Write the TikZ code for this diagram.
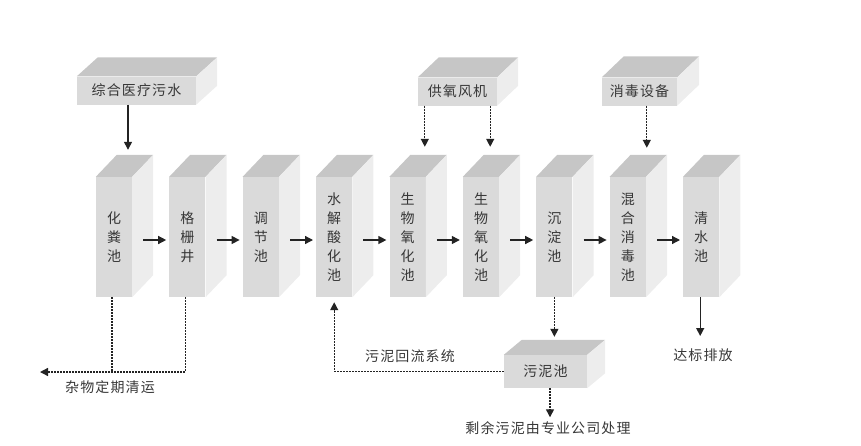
\documentclass[tikz,border=0pt]{standalone}
\usepackage{fontspec}
\newfontfamily\cjk[LetterSpace=8]{Noto Sans CJK SC}
\usetikzlibrary{positioning,arrows.meta}
\definecolor{frontgray}{RGB}{218,218,218}
\definecolor{topgray}{RGB}{198,198,198}
\definecolor{sidegray}{RGB}{237,237,237}
\definecolor{linegray}{RGB}{35,35,35}
\definecolor{textgray}{RGB}{55,55,55}

\begin{document}
\begin{tikzpicture}[x=1pt, y=-1pt, node distance=37pt,
    font=\cjk\fontsize{14}{19}\selectfont, text=textgray,
    tank/.style = {fill=frontgray, minimum width=36pt, minimum height=120pt, inner sep=0pt, align=center},
    unit/.style = {fill=frontgray, minimum height=28pt, inner sep=0pt},
    note/.style = {inner sep=4pt},
    flow/.style = {draw=linegray, line width=1.3pt, -{Triangle[length=8pt,width=8pt]}},
    dline/.style = {draw=linegray, line width=1.3pt, dash pattern=on 2pt off 1pt},
    dflow/.style = {dline, -{Triangle[length=8pt,width=8pt]}}]
  \useasboundingbox (0,0) rectangle (861,445);

  % tanks
  \node[tank] (hfc) at (114,237) {化\\粪\\池};
  \node[tank, right=of hfc] (gsj) {格\\栅\\井};
  \node[tank, right=of gsj] (tjc) {调\\节\\池};
  \node[tank, right=of tjc] (sjc) {水\\解\\酸\\化\\池};
  \node[tank, right=of sjc] (swa) {生\\物\\氧\\化\\池};
  \node[tank, right=of swa] (swb) {生\\物\\氧\\化\\池};
  \node[tank, right=of swb] (cdc) {沉\\淀\\池};
  \node[tank, right=of cdc] (hhc) {混\\合\\消\\毒\\池};
  \node[tank, right=of hhc] (qsc) {清\\水\\池};

  % other units
  \node[unit, minimum width=119pt] (src) at (136.5,90.5) {综合医疗污水};
  \node[unit, minimum width=79pt] (fan) at (457.5,91.5) {供氧风机};
  \node[unit, minimum width=75pt] (dis) at (639.5,91.5) {消毒设备};
  \node[unit, minimum width=83pt, minimum height=33pt] (wnc) at (545.5,371.5) {污泥池};

  % top and side faces
  \foreach \n/\dx/\dy in {hfc/21/22, gsj/21/22, tjc/21/22, sjc/21/22, swa/21/22,
      swb/21/22, cdc/21/22, hhc/21/22, qsc/21/22, src/21/19, fan/21/20, dis/22/21, wnc/18/15} {
    \fill[topgray] (\n.north west) -- ++(\dx,-\dy) -- ([shift={(\dx,-\dy)}]\n.north east) -- (\n.north east) -- cycle;
    \fill[sidegray] (\n.north east) -- ([shift={(\dx,-\dy)}]\n.north east) -- ([shift={(\dx,-\dy)}]\n.south east) -- (\n.south east) -- cycle;
  }

  % labels
  \node[note] (junk label) at (110,387) {杂物定期清运};
  \node[note] (return label) at (410,356) {污泥回流系统};
  \node[note] (rest) at (548,428) {剩余污泥由专业公司处理};
  \node[note] (drain) at (703,355) {达标排放};

  % main flow
  \foreach \a/\b in {hfc/gsj, gsj/tjc, tjc/sjc, sjc/swa, swa/swb, swb/cdc, cdc/hhc, hhc/qsc}
    \draw[flow] ([shift={(11,3)}]\a.east) -- ([shift={(-3,3)}]\b.west);

  % inputs from above
  \coordinate (hfc in) at ([shift={(14pt,27pt)}]hfc.north);
  \coordinate (swa in) at ([yshift=30pt]swa.north);
  \coordinate (hhc in) at ([shift={(19pt,29pt)}]hhc.north);
  \coordinate (fan a) at ([xshift=7pt]fan.south west);
  \coordinate (fan b) at ([xshift=-7pt]fan.south east);
  \draw[flow] (src.south -| hfc in) -- (hfc in);
  \draw[dflow] (fan a) -- (fan a |- swa in);
  \draw[dflow] (fan b) -- (fan b |- swa in);
  \draw[dflow] (dis.south -| hhc in) -- (hhc in);

  % screenings
  \coordinate (hfc a) at ([xshift=-2pt]hfc.south);
  \coordinate (gsj a) at ([xshift=-2pt]gsj.south);
  \coordinate (junk) at (40,372);
  \draw[dline] (hfc a) -- (hfc a |- junk);
  \draw[dflow] (gsj a) |- (junk);

  % sludge
  \coordinate (wnc in) at ([yshift=18pt]wnc.north);
  \coordinate (wnc out) at ([xshift=4.5pt]wnc.south);
  \draw[dflow] (cdc.south) -- (cdc.south |- wnc in);
  \draw[dflow] (wnc.west) -| ([yshift=-5pt]sjc.south);
  \draw[dflow] (wnc out) -- (wnc out |- rest.north);

  % outlet
  \coordinate (qsc out) at ([xshift=-1pt]qsc.south);
  \coordinate (drain in) at (697,336);
  \draw[flow] (qsc out) -- (qsc out |- drain in);
\end{tikzpicture}
\end{document}
